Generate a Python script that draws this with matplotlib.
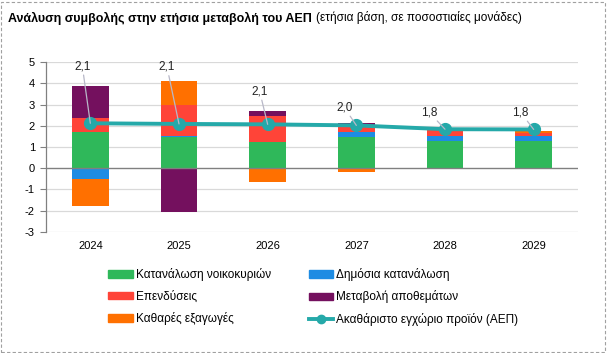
import matplotlib
matplotlib.use("Agg")
import matplotlib.pyplot as plt
import numpy as np
from matplotlib.patches import Rectangle
from matplotlib.lines import Line2D
from matplotlib.patches import Patch

years = ["2024", "2025", "2026", "2027", "2028", "2029"]
household = [1.71, 1.45, 1.24, 1.48, 1.30, 1.26]
public = [-0.49, 0.05, 0.00, 0.25, 0.22, 0.26]
investment = [0.67, 1.49, 1.22, 0.22, 0.29, 0.13]
inventories = [1.51, -2.06, 0.24, 0.19, 0.00, 0.00]
net_exports = [-1.28, 1.13, -0.65, -0.16, 0.00, 0.11]
gdp = [2.12, 2.09, 2.07, 2.02, 1.84, 1.83]

series_names = ["Κατανάλωση νοικοκυριών", "Δημόσια κατανάλωση", "Επενδύσεις",
                "Μεταβολή αποθεμάτων", "Καθαρές εξαγωγές"]
gdp_name = "Ακαθάριστο εγχώριο προϊόν (ΑΕΠ)"
colors = ["#2FB85A", "#1E8CE3", "#FF4438", "#74105E", "#FF7000"]
line_color = "#25A9A9"

FONT = ['Liberation Sans', 'DejaVu Sans']
plt.rcParams['font.family'] = FONT

fig = plt.figure(figsize=(6.07, 3.53), dpi=100)
W, H = 607, 353
ax = fig.add_axes([46 / W, 1 - 231.7 / H, (578 - 46) / W, (231.7 - 62.3) / H])

x = np.arange(len(years))
data = [household, public, investment, inventories, net_exports]
pos_base = np.zeros(len(years))
neg_base = np.zeros(len(years))
for vals, c in zip(data, colors):
    v = np.array(vals)
    p = np.where(v > 0, v, 0)
    n = np.where(v < 0, v, 0)
    ax.bar(x, p, bottom=pos_base, width=0.41, color=c, zorder=2, linewidth=0)
    ax.bar(x, n, bottom=neg_base, width=0.41, color=c, zorder=2, linewidth=0)
    pos_base += p
    neg_base += n

ax.plot(x, gdp, color=line_color, lw=2.8, marker='o', markersize=8.5, zorder=4)

offsets = [(-8, 51), (-12, 51), (-8, 27), (-12, 12), (-16, 11), (-13, 11)]
for xi, g, off in zip(x, gdp, offsets):
    ax.annotate(f"{g:.1f}".replace('.', ','), xy=(xi, g), xytext=off,
                textcoords='offset pixels', ha='center', va='bottom', fontsize=8.5,
                color='#222222', zorder=5,
                arrowprops=dict(arrowstyle='-', color='#B8B8C8', lw=0.9,
                                shrinkA=0, shrinkB=0))

ax.set_xlim(-0.5, 5.5)
ax.set_ylim(-3, 5)
ax.set_yticks(range(-3, 6))
ax.set_yticklabels([str(t) for t in range(-3, 6)], fontsize=8)
ax.set_xticks(x)
ax.set_xticklabels(years, fontsize=8)
ax.tick_params(axis='x', length=0, pad=7)
ax.tick_params(axis='y', length=4, color='#808080', width=0.8, pad=4)
for t in range(-3, 6):
    if t != 0:
        ax.axhline(t, color='#D9D9D9', lw=0.9, zorder=0)
ax.axhline(0, color='#808080', lw=1.0, zorder=3)
for s in ['top', 'right', 'bottom']:
    ax.spines[s].set_visible(False)
ax.spines['left'].set_color('#808080')
ax.spines['left'].set_linewidth(0.9)

handles = [Patch(color=c) for c in colors] + [
    Line2D([0], [0], color=line_color, lw=2.8, marker='o', markersize=6)]
labels = series_names + [gdp_name]
order = [0, 2, 4, 1, 3, 5]
leg = fig.legend([handles[i] for i in order], [labels[i] for i in order],
                 ncol=2, loc='upper left', bbox_to_anchor=(108 / W, 1 - 268 / H),
                 frameon=False, fontsize=8.5, handlelength=2.1, handleheight=0.6,
                 handletextpad=0.25, columnspacing=3.2, labelspacing=0.8,
                 borderaxespad=0, borderpad=0)

# title
y_t = 1 - 18 / H
t1 = fig.text(8 / W, y_t, "Ανάλυση συμβολής στην ετήσια μεταβολή του ΑΕΠ",
              fontsize=9, fontweight='bold', va='center', ha='left')
fig.canvas.draw()
r = fig.canvas.get_renderer()
bb = t1.get_window_extent(r)
fig.text((bb.x1 + 4) / W, y_t, "(ετήσια βάση, σε ποσοστιαίες μονάδες)",
         fontsize=8.6, va='center', ha='left')

fig.add_artist(Rectangle((1 / W, 1 / H), (W - 3) / W, (H - 3) / H, transform=fig.transFigure,
                         fill=False, edgecolor='#A0A0A0', lw=0.8, linestyle=(0, (3, 2))))

fig.savefig("out.png", dpi=100)
